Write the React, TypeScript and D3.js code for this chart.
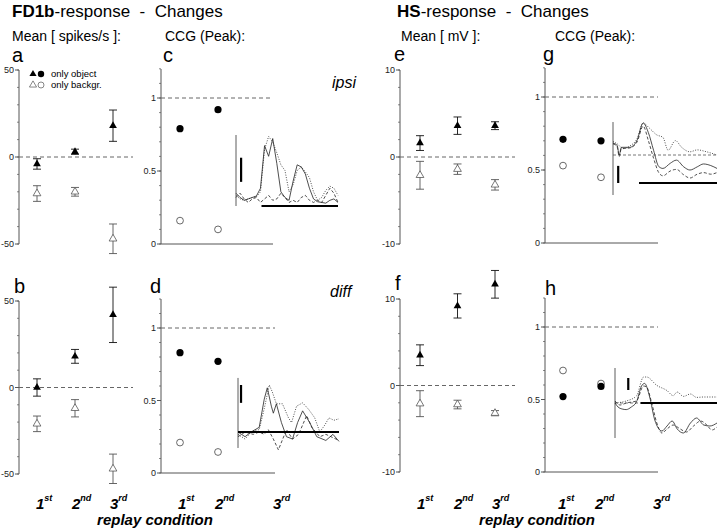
import React from 'react';
import * as d3 from 'd3';

const FONT = 'Liberation Sans, Arial, Helvetica, sans-serif';

// replay conditions
const conditions = ['1st', '2nd', '3rd'];

// FD1b mean changes [spikes/s], mean and error
const fd1bIpsiObj = [-4, 3, 18];
const fd1bIpsiObjErr = [3, 1.5, 9];
const fd1bIpsiBkg = [-21, -20, -47];
const fd1bIpsiBkgErr = [4.5, 2.5, 8.5];
const fd1bDiffObj = [0, 18, 42];
const fd1bDiffObjErr = [5, 4, 16];
const fd1bDiffBkg = [-21, -12, -47];
const fd1bDiffBkgErr = [4.5, 5, 8.5];

// HS mean changes [mV]
const hsIpsiObj = [1.6, 3.6, 3.6];
const hsIpsiObjErr = [0.85, 1.0, 0.45];
const hsIpsiBkg = [-2.1, -1.4, -3.2];
const hsIpsiBkgErr = [1.6, 0.6, 0.6];
const hsDiffObj = [3.5, 9.2, 11.7];
const hsDiffObjErr = [1.2, 1.4, 1.6];
const hsDiffBkg = [-2.1, -2.2, -3.2];
const hsDiffBkgErr = [1.5, 0.5, 0.3];

// CCG peaks (1st, 2nd)
const fd1bIpsiCcgObj = [0.79, 0.92];
const fd1bIpsiCcgBkg = [0.16, 0.1];
const fd1bDiffCcgObj = [0.83, 0.77];
const fd1bDiffCcgBkg = [0.21, 0.145];
const hsIpsiCcgObj = [0.71, 0.7];
const hsIpsiCcgBkg = [0.53, 0.45];
const hsDiffCcgObj = [0.52, 0.59];
const hsDiffCcgBkg = [0.7, 0.61];

// inset CCG traces for the 3rd condition: [lag, value]
const cSolid = [[0,0.18],[4,0.12],[8,0.08],[12,0.1],[16,0.12],[20,0.14],[24,0.25],[28,0.85],[32,0.7],[36,0.95],[40,0.6],[44,0.2],[48,0.12],[52,0.08],[56,0.35],[60,0.58],[64,0.55],[68,0.45],[72,0.25],[76,0.1],[80,0.06],[84,0.05],[88,0.04],[92,0.08],[96,0.1],[100,0.05]];
const cDotted = [[0,0.15],[4,0.1],[8,0.08],[12,0.1],[16,0.12],[20,0.13],[24,0.2],[28,0.8],[32,0.98],[36,0.9],[40,0.75],[44,0.58],[48,0.5],[52,0.2],[56,0.3],[60,0.5],[64,0.55],[68,0.48],[72,0.4],[76,0.2],[80,0.08],[84,0.12],[88,0.22],[92,0.28],[96,0.25],[100,0.15]];
const cDashed = [[0,0.12],[4,0.18],[8,0.1],[12,0.05],[16,0.1],[20,0.12],[24,0.05],[28,0.1],[32,0.15],[36,0.08],[40,0.1],[44,0.18],[48,0.12],[52,0.05],[56,0.08],[60,0.05],[64,0.12],[68,0.15],[72,0.08],[76,0.05],[80,0.08],[84,0.05],[88,0.15],[92,0.25],[96,0.18],[100,0.05]];

const dSolid = [[0,0],[7,-0.1],[13,0],[21,0.1],[26,0.7],[29,0.94],[33,0.55],[35,0.4],[38,0.6],[43,0.2],[48,-0.1],[54,-0.15],[59,0.2],[64,0.45],[71,0.2],[78,-0.1],[87,-0.18],[94,-0.05],[100,-0.2]];
const dDotted = [[0,-0.05],[7,-0.15],[14,0.02],[21,0.05],[26,0.5],[31,1.0],[34,0.85],[38,0.6],[44,0.6],[50,0.3],[53,0.2],[58,0.55],[64,0.62],[70,0.48],[76,0.3],[81,0],[86,0.15],[90,0.3],[95,0.25],[100,0.28]];
const dDashed = [[0,-0.1],[7,0],[15,-0.05],[21,0],[26,-0.05],[30,0.05],[35,-0.15],[40,-0.38],[48,0.05],[54,-0.15],[60,-0.05],[68,0.35],[73,0.1],[81,-0.1],[87,-0.05],[94,-0.12],[100,-0.18]];

const gSolid = [[0,0.37],[4,0.3],[6,0],[8,0.24],[16,0.24],[23,0.45],[29,1.0],[34,0.7],[39,0.15],[44,-0.36],[48,-0.42],[55,-0.26],[61,-0.16],[68,-0.37],[74,-0.47],[81,-0.37],[87,-0.28],[94,-0.33],[100,-0.42]];
const gDashed = [[0,0.35],[4,0.25],[6,-0.05],[8,0.2],[16,0.22],[23,0.4],[29,0.9],[34,0.45],[39,-0.1],[44,-0.55],[48,-0.65],[55,-0.5],[61,-0.45],[68,-0.62],[74,-0.72],[81,-0.6],[87,-0.55],[94,-0.6],[100,-0.55]];
const gDotted = [[0,0.42],[4,0.35],[10,0.2],[16,0.28],[23,0.5],[29,1.0],[35,0.84],[42,0.63],[48,0.55],[53,0.15],[60,0.45],[66,0.24],[74,0.1],[81,0.16],[90,0.1],[100,0]];

const hSolid = [[0,0],[3,-0.2],[7,-0.3],[11,-0.33],[16,-0.2],[21,0.05],[26,0.85],[29,0.98],[34,0.3],[39,-0.85],[46,-1.4],[51,-1.15],[56,-0.9],[61,-1.3],[67,-1.5],[74,-1.0],[80,-0.75],[87,-1.1],[93,-1.15],[100,-1.0]];
const hDashed = [[0,0.1],[5,-0.1],[11,0],[21,0.1],[28,0.85],[31,0.8],[36,0],[41,-1.0],[46,-1.5],[51,-1.3],[57,-1.1],[64,-1.3],[70,-1.45],[77,-1.15],[84,-0.9],[90,-1.1],[95,-1.35],[100,-1.2]];
const hDotted = [[0,0],[11,0.1],[21,0.35],[28,1.3],[31,1.3],[41,0.88],[51,0.62],[57,0.37],[61,0.55],[67,0.33],[74,0.45],[80,0.28],[87,0.3],[100,0.3]];

const meanTicksFd1b = [-50, 0, 50];
const meanTicksHs = [-10, 0, 10];
const ccgTicks = [0, 0.5, 1];

const AXIS = '#555';

const tri = d3.symbol(d3.symbolTriangle, 26)();

function MeanPanel({ ax, cats, yTop, yBot, domain, ticks, minor, dashEnd, obj, objErr, bkg, bkgErr }) {
  const y = d3.scaleLinear().domain(domain).range([yBot, yTop]);
  const x = d3.scalePoint().domain(conditions).range(cats);
  const bars = (vals, errs, col, key) => vals.map((v, i) => {
    const cx = x(conditions[i]);
    return (
      <g key={key + i} stroke={col} strokeWidth={0.9}>
        <line x1={cx} x2={cx} y1={y(v + errs[i])} y2={y(v - errs[i])} />
        <line x1={cx - 4} x2={cx + 4} y1={y(v + errs[i])} y2={y(v + errs[i])} />
        <line x1={cx - 4} x2={cx + 4} y1={y(v - errs[i])} y2={y(v - errs[i])} />
      </g>
    );
  });
  return (
    <g>
      <line x1={ax} x2={ax} y1={y(domain[0])} y2={y(domain[1])} stroke={AXIS} />
      {d3.range(domain[0], domain[1] + minor / 2, minor).map(t => (
        <line key={'m' + t} x1={ax - 2} x2={ax} y1={y(t)} y2={y(t)} stroke={AXIS} strokeWidth={0.7} />
      ))}
      {ticks.map(t => (
        <g key={t}>
          <line x1={ax - 4} x2={ax} y1={y(t)} y2={y(t)} stroke={AXIS} />
          <text x={ax - 5} y={y(t)} dy="0.35em" textAnchor="end" fontSize={9} fill="#222">{t}</text>
        </g>
      ))}
      <line x1={ax} x2={dashEnd} y1={y(0)} y2={y(0)} stroke="#666" strokeDasharray="4,3" />
      {bars(bkg, bkgErr, '#555', 'b')}
      {bars(obj, objErr, '#111', 'o')}
      {bkg.map((v, i) => (
        <path key={'bt' + i} d={tri} transform={`translate(${x(conditions[i])},${y(v)})`} fill="#fff" stroke="#555" strokeWidth={0.8} />
      ))}
      {obj.map((v, i) => (
        <path key={'ot' + i} d={tri} transform={`translate(${x(conditions[i])},${y(v)})`} fill="#000" />
      ))}
    </g>
  );
}

function Inset({ x0, x1, y0, unit, vRange, traces, bar, scaleBar, dashed, smooth }) {
  const x = d3.scaleLinear().domain([0, 100]).range([x0, x1]);
  const y = d3.scaleLinear().domain([0, 1]).range([y0, y0 - unit]);
  const line = d3.line().x(d => x(d[0])).y(d => y(d[1])).curve(smooth ? d3.curveMonotoneX : d3.curveLinear);
  return (
    <g>
      <line x1={x(0)} x2={x(0)} y1={y(vRange[0])} y2={y(vRange[1])} stroke="#333" strokeWidth={0.8} />
      {dashed && (
        <line x1={x(dashed[0])} x2={x(dashed[1])} y1={y(0)} y2={y(0)} stroke="#555" strokeDasharray="3,2" strokeWidth={0.8} />
      )}
      {traces.map((t, i) => (
        <path key={i} d={line(t.data)} fill="none" stroke="#222" strokeWidth={0.8} strokeDasharray={t.dash} />
      ))}
      <line x1={x(bar[0])} x2={x(bar[1])} y1={y(bar[2])} y2={y(bar[2])} stroke="#000" strokeWidth={2.2} />
      <line x1={x(scaleBar[0])} x2={x(scaleBar[0])} y1={y(scaleBar[1])} y2={y(scaleBar[2])} stroke="#000" strokeWidth={2.2} />
    </g>
  );
}

function CcgPanel({ ax, cats, yTop0, y0, y1, xEnd, obj, bkg, inset }) {
  const y = d3.scaleLinear().domain([0, 1]).range([y0, y1]);
  const x = d3.scalePoint().domain(conditions.slice(0, 2)).range(cats);
  return (
    <g>
      <line x1={ax} x2={ax} y1={y(0)} y2={yTop0} stroke={AXIS} />
      <line x1={ax} x2={xEnd} y1={y(0)} y2={y(0)} stroke={AXIS} />
      {d3.range(0, 1.21, 0.1).map(t => (
        <line key={'m' + t} x1={ax - 2} x2={ax} y1={y(t)} y2={y(t)} stroke={AXIS} strokeWidth={0.7} />
      ))}
      {ccgTicks.map(t => (
        <g key={t}>
          <line x1={ax - 4} x2={ax} y1={y(t)} y2={y(t)} stroke={AXIS} />
          <text x={ax - 5} y={y(t)} dy="0.35em" textAnchor="end" fontSize={9} fill="#222">{t}</text>
        </g>
      ))}
      <line x1={ax} x2={xEnd} y1={y(1)} y2={y(1)} stroke="#666" strokeDasharray="4,3" />
      {bkg.map((v, i) => (
        <circle key={'b' + i} cx={x(conditions[i])} cy={y(v)} r={3.4} fill="#fff" stroke="#444" strokeWidth={0.8} />
      ))}
      {obj.map((v, i) => (
        <circle key={'o' + i} cx={x(conditions[i])} cy={y(v)} r={3.6} fill="#000" />
      ))}
      <Inset {...inset} />
    </g>
  );
}

function CondLabels({ xs }) {
  const sup = ['st', 'nd', 'rd'];
  return (
    <g fontFamily={FONT} fontWeight="bold" fontStyle="italic">
      {xs.map((x, i) => (
        <text key={i} x={x} y={509} fontSize={15}>
          {conditions[i % 3].charAt(0)}
          <tspan fontSize={9} dy={-8}>{sup[i % 3]}</tspan>
        </text>
      ))}
    </g>
  );
}

export default function App() {
  const solid = (data) => ({ data, dash: null });
  const dot = (data) => ({ data, dash: '1,1.5' });
  const dash = (data) => ({ data, dash: '3,2' });
  return (
    <svg width={720} height={532} style={{ position: 'absolute', left: 0, top: 0, background: '#fff' }} fontFamily={FONT}>
      <rect width={720} height={532} fill="#fff" />
      {/* headers */}
      <text x={12} y={17} fontSize={17} style={{ whiteSpace: 'pre' }}><tspan fontWeight="bold">FD1b</tspan>-response  -  Changes</text>
      <text x={397} y={17} fontSize={17} style={{ whiteSpace: 'pre' }}><tspan fontWeight="bold">HS</tspan>-response  -  Changes</text>
      <text x={12} y={41} fontSize={14}>Mean [ spikes/s ]:</text>
      <text x={165} y={41} fontSize={14}>CCG (Peak):</text>
      <text x={401} y={41} fontSize={14}>Mean [ mV ]:</text>
      <text x={555} y={41} fontSize={14}>CCG (Peak):</text>
      {/* panel letters */}
      <g fontSize={20}>
        <text x={12} y={62}>a</text>
        <text x={163} y={62}>c</text>
        <text x={394} y={61}>e</text>
        <text x={543} y={61}>g</text>
        <text x={14} y={293}>b</text>
        <text x={150} y={293}>d</text>
        <text x={395} y={290}>f</text>
        <text x={545} y={295}>h</text>
      </g>
      <text x={332} y={88} fontSize={16} fontStyle="italic">ipsi</text>
      <text x={330} y={297} fontSize={16} fontStyle="italic">diff</text>
      {/* legend */}
      <g fontSize={9.5}>
        <path d={d3.symbol(d3.symbolTriangle, 22)()} transform="translate(33,74)" fill="#000" />
        <circle cx={41} cy={74} r={3.2} fill="#000" />
        <text x={51} y={77}>only object</text>
        <path d={d3.symbol(d3.symbolTriangle, 22)()} transform="translate(33,85)" fill="#fff" stroke="#555" strokeWidth={0.7} />
        <circle cx={41} cy={85} r={3} fill="#fff" stroke="#555" strokeWidth={0.7} />
        <text x={51} y={88}>only backgr.</text>
      </g>

      <MeanPanel ax={19} cats={[37, 113]} yTop={70} yBot={244} domain={[-50, 50]} ticks={meanTicksFd1b} minor={10} dashEnd={133}
        obj={fd1bIpsiObj} objErr={fd1bIpsiObjErr} bkg={fd1bIpsiBkg} bkgErr={fd1bIpsiBkgErr} />
      <MeanPanel ax={19} cats={[37, 113]} yTop={301} yBot={474} domain={[-50, 50]} ticks={meanTicksFd1b} minor={10} dashEnd={133}
        obj={fd1bDiffObj} objErr={fd1bDiffObjErr} bkg={fd1bDiffBkg} bkgErr={fd1bDiffBkgErr} />
      <MeanPanel ax={400} cats={[420, 495]} yTop={70} yBot={244} domain={[-10, 10]} ticks={meanTicksHs} minor={2} dashEnd={515}
        obj={hsIpsiObj} objErr={hsIpsiObjErr} bkg={hsIpsiBkg} bkgErr={hsIpsiBkgErr} />
      <MeanPanel ax={400} cats={[420, 495]} yTop={299} yBot={472} domain={[-10, 10]} ticks={meanTicksHs} minor={2} dashEnd={515}
        obj={hsDiffObj} objErr={hsDiffObjErr} bkg={hsDiffBkg} bkgErr={hsDiffBkgErr} />

      <CcgPanel ax={161} cats={[180, 218]} yTop0={69} y0={244} y1={98} xEnd={273} obj={fd1bIpsiCcgObj} bkg={fd1bIpsiCcgBkg}
        inset={{ x0: 236, x1: 338, y0: 206, unit: 71, vRange: [0, 1], traces: [solid(cSolid), dot(cDotted), dash(cDashed)],
          bar: [25, 100, 0], scaleBar: [5, 0.34, 0.68], dashed: null, smooth: false }} />
      <CcgPanel ax={161} cats={[180, 218]} yTop0={299} y0={473} y1={328} xEnd={275} obj={fd1bDiffCcgObj} bkg={fd1bDiffCcgBkg}
        inset={{ x0: 238, x1: 339, y0: 432, unit: 47, vRange: [-0.34, 1.15], traces: [solid(dSolid), dot(dDotted), dash(dDashed)],
          bar: [0, 100, 0], scaleBar: [3, 0.62, 1.0], dashed: null, smooth: false }} />
      <CcgPanel ax={545} cats={[563, 601]} yTop0={68} y0={243} y1={97} xEnd={658} obj={hsIpsiCcgObj} bkg={hsIpsiCcgBkg}
        inset={{ x0: 613, x1: 717, y0: 155, unit: 32, vRange: [-1.25, 1.03], traces: [solid(gSolid), dot(gDotted), dash(gDashed)],
          bar: [25, 100, -0.875], scaleBar: [5, -0.875, -0.34], dashed: [0, 100], smooth: true }} />
      <CcgPanel ax={545} cats={[563, 601]} yTop0={298} y0={472} y1={327} xEnd={658} obj={hsDiffCcgObj} bkg={hsDiffCcgBkg}
        inset={{ x0: 615, x1: 717, y0: 403, unit: 20, vRange: [-1.75, 1.75], traces: [solid(hSolid), dot(hDotted), dash(hDashed)],
          bar: [25, 100, 0], scaleBar: [13, 0.65, 1.25], dashed: [0, 25], smooth: true }} />

      <CondLabels xs={[36, 72, 110, 178, 215, 273]} />
      <CondLabels xs={[417, 454, 492, 558, 595, 653]} />
      <text x={155} y={525} fontSize={15} fontWeight="bold" fontStyle="italic" textAnchor="middle">replay condition</text>
      <text x={537} y={525} fontSize={15} fontWeight="bold" fontStyle="italic" textAnchor="middle">replay condition</text>
    </svg>
  );
}
